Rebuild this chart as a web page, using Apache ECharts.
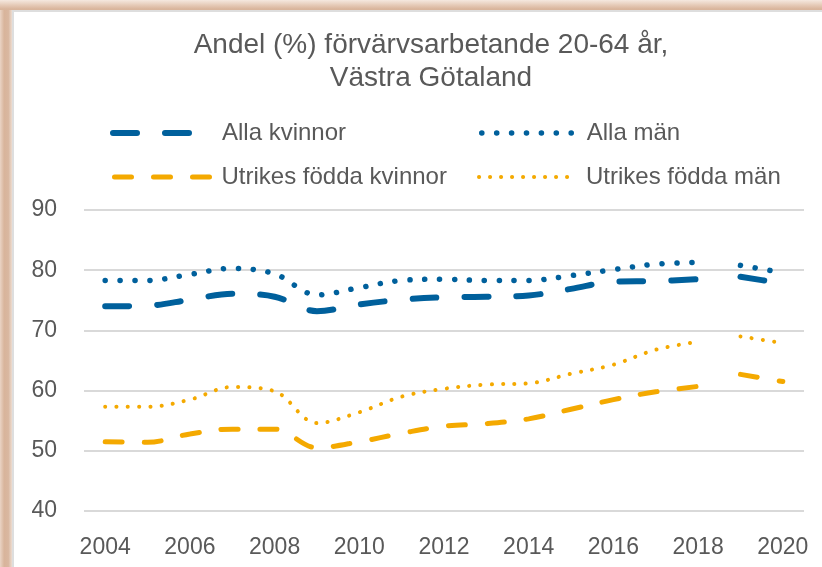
<!DOCTYPE html>
<html>
<head>
<meta charset="utf-8">
<script src="https://cdn.jsdelivr.net/npm/echarts@6/dist/echarts.min.js"></script>
<style>
    html, body { margin: 0; padding: 0; background: #fff; }
    #wrap { position: relative; width: 822px; height: 567px; overflow: hidden; }
    #chart { position: absolute; left: 0; top: 0; width: 822px; height: 567px; }
    .frame { position: absolute; pointer-events: none; }
    #frameLeft { left: 0; top: 0; width: 12px; height: 567px;
        background: linear-gradient(to right, #ead4c5, #d8b49b 35%, #d9b7a0 70%, #eddcd0); }
    #frameTop { left: 0; top: 0; width: 822px; height: 10px;
        background: linear-gradient(to bottom, #f5e8df, #e6cbb8 50%, #d9b59c 90%); }
    #innerLeft { left: 12px; top: 10px; width: 2px; height: 557px; background: #dedede; }
    #innerTop { left: 12px; top: 10px; width: 810px; height: 2px; background: #dedede; }
</style>
</head>
<body>
<div id="wrap">
    <div id="chart"></div>
    <div class="frame" id="frameLeft"></div>
    <div class="frame" id="frameTop"></div>
    <div class="frame" id="innerLeft"></div>
    <div class="frame" id="innerTop"></div>
</div>
<script>
// år 2004-2020, serien bryts mellan 2018 och 2019
var years = ['2004','2005','2006','2007','2008','2009','2010','2011','2012',
             '2013','2014','2015','2016','2017','2018','2019','2020'];
var breakYear = '2019';

var allaKvinnor = [74.0, 74.1, 75.1, 76.1, 75.6, 73.2, 74.3, 75.1, 75.5,
                   75.6, 75.8, 76.9, 78.1, 78.2, 78.5, 78.9, 77.8];
var allaMan = [78.3, 78.3, 79.3, 80.3, 79.4, 75.9, 77.1, 78.3, 78.5,
               78.3, 78.3, 79.1, 80.1, 81.0, 81.3, 80.8, 79.6];
var utrikesKvinnor = [51.5, 51.4, 52.8, 53.6, 53.6, 50.5, 51.5, 52.9, 54.1,
                      54.5, 55.3, 56.9, 58.5, 59.8, 60.7, 62.7, 61.5];
var utrikesMan = [57.3, 57.3, 58.5, 60.6, 59.9, 54.6, 56.4, 59.0, 60.3,
                  61.0, 61.2, 62.8, 64.3, 66.8, 68.1, 69.0, 67.9];

var yTicks = [40, 50, 60, 70, 80, 90];

var BLUE = '#00609c';
var ORANGE = '#f4a900';
var TEXT = '#595959';
var FONT = 'Liberation Sans, Arial, sans-serif';

// linjestilar: [färg, bredd, streckmönster]
var styles = {
    'Alla kvinnor': [BLUE, 6, [24, 28]],
    'Alla män': [BLUE, 5.5, [0.1, 14.8]],
    'Utrikes födda kvinnor': [ORANGE, 5, [17, 22]],
    'Utrikes födda män': [ORANGE, 4, [0.1, 11.2]]
};

// dela upp en serie i två delar (före / efter brottet)
function splitAt(values) {
    var idx = years.indexOf(breakYear);
    var before = values.map(function (v, i) { return i < idx ? v : '-'; });
    var after = values.map(function (v, i) { return i >= idx ? v : '-'; });
    return [before, after];
}

function makeSeries(name, values) {
    var s = styles[name];
    return splitAt(values).map(function (d) {
        return {
            name: name,
            type: 'line',
            data: d,
            smooth: 0.35,
            symbol: 'none',
            lineStyle: { color: s[0], width: s[1], type: s[2], cap: 'round' },
            itemStyle: { color: s[0] }
        };
    });
}

var series = [].concat(
    makeSeries('Alla kvinnor', allaKvinnor),
    makeSeries('Alla män', allaMan),
    makeSeries('Utrikes födda kvinnor', utrikesKvinnor),
    makeSeries('Utrikes födda män', utrikesMan)
);

// förklaringens streck slutar en bit före texten, som i Excel
function legendAt(name, left, top, width, dash) {
    var s = styles[name];
    return {
        data: [name],
        left: left,
        top: top,
        itemWidth: width,
        itemHeight: 14,
        itemGap: 0,
        selectedMode: false,
        itemStyle: { color: 'rgba(0,0,0,0)', borderWidth: 0 },
        lineStyle: { color: s[0], width: s[1], type: dash, cap: 'round' },
        textStyle: { color: TEXT, fontSize: 24, fontFamily: FONT }
    };
}

var dotsEight = [];
for (var k = 0; k < 8; k++) dotsEight.push(0.1, 10.9);
dotsEight.push(0.1, 60);

var myChart = echarts.init(document.getElementById('chart'));
myChart.setOption({
    backgroundColor: '#fff',
    animation: false,
    title: {
        text: 'Andel (%) förvärvsarbetande 20-64 år,\nVästra Götaland',
        left: 426,
        top: 24,
        textAlign: 'center',
        textStyle: {
            color: TEXT,
            fontSize: 28,
            fontWeight: 'normal',
            fontFamily: FONT,
            lineHeight: 33
        }
    },
    legend: [
        legendAt('Alla kvinnor', 105, 116, 104, [24, 28, 24, 100]),
        legendAt('Alla män', 474, 116, 100, [0.1, 14.8, 0.1, 14.8, 0.1, 14.8, 0.1, 14.8,
                                               0.1, 14.8, 0.1, 14.8, 0.1, 60]),
        legendAt('Utrikes födda kvinnor', 107, 160, 102, [17, 22]),
        legendAt('Utrikes födda män', 472, 160, 102, dotsEight)
    ],
    grid: { left: 84, right: 18, top: 210, bottom: 56 },
    xAxis: {
        type: 'category',
        data: years,
        boundaryGap: true,
        axisLine: { show: false },
        axisTick: { show: false },
        axisLabel: {
            interval: 1,
            color: TEXT,
            fontSize: 23,
            fontFamily: FONT,
            margin: 25
        }
    },
    yAxis: {
        type: 'value',
        min: yTicks[0],
        max: yTicks[yTicks.length - 1],
        interval: 10,
        axisLine: { show: false },
        axisTick: { show: false },
        axisLabel: {
            color: TEXT,
            fontSize: 23,
            fontFamily: FONT,
            margin: 27
        },
        splitLine: { lineStyle: { color: '#d9d9d9', width: 2 } }
    },
    series: series
});
</script>
</body>
</html>
